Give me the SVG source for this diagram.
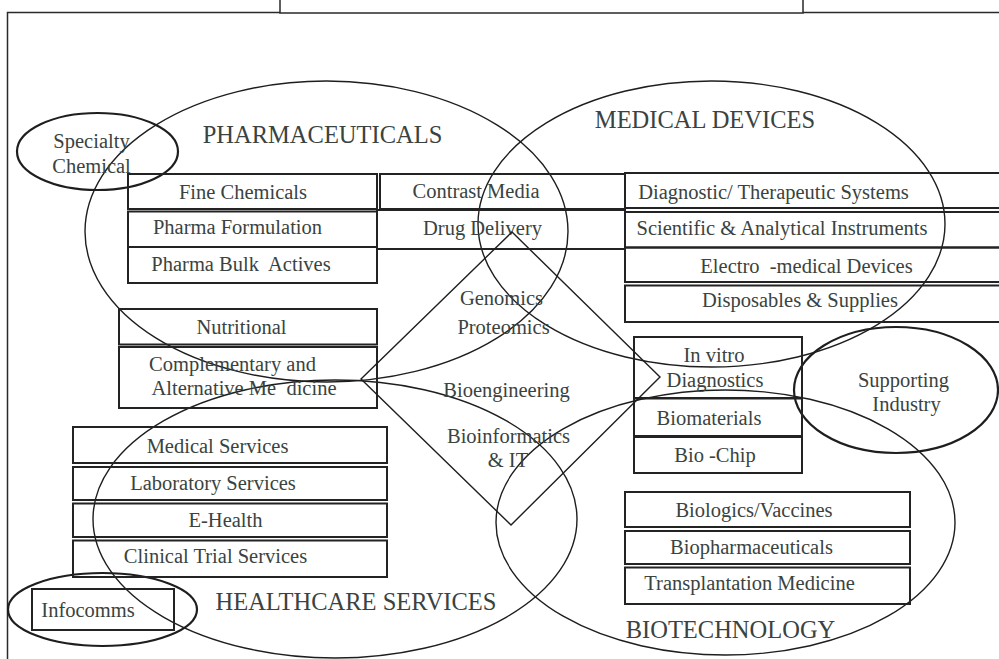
<svg xmlns="http://www.w3.org/2000/svg" width="999" height="659" viewBox="0 0 999 659">
  <style>
    .bg { fill: #ffffff; }
    .frame { fill: none; stroke: #2a2a2a; stroke-width: 1.5; }
    .sector { fill: none; stroke: #1e1e1e; stroke-width: 1.4; }
    .ring { fill: none; stroke: #1e1e1e; stroke-width: 2.2; }
    .box { fill: none; stroke: #232323; stroke-width: 2; }
    .diamond { fill: none; stroke: #1e1e1e; stroke-width: 1.4; }
    .lbl { font-size: 20.5px; text-anchor: middle; fill: #3a4340; white-space: pre; }
    .title { font-size: 24.5px; text-anchor: middle; fill: #3a4340; }
  </style>

  <rect class="bg" x="0" y="0" width="999" height="659"/>

  <!-- page frame and header box -->
  <g id="frame">
    <polyline class="frame" points="7.5,659 7.5,12.5 280,12.5"/>
    <polyline class="frame" points="280,0 280,13 803,13 803,0"/>
    <line class="frame" x1="803" y1="12.5" x2="999" y2="12.5"/>
  </g>

  <g font-family="'Liberation Serif', 'DejaVu Serif', 'Times New Roman', serif">
  <!-- sector ellipses -->
  <g id="pharmaceuticals">
    <ellipse class="sector" cx="326.5" cy="231.5" rx="241.5" ry="150.5"/>
    <text class="title" x="322.5" y="143">PHARMACEUTICALS</text>
  </g>
  <g id="medical-devices">
    <ellipse class="sector" cx="711.5" cy="224" rx="233.5" ry="143"/>
    <text class="title" x="705" y="128">MEDICAL DEVICES</text>
  </g>
  <g id="healthcare-services">
    <ellipse class="sector" cx="335" cy="519" rx="242" ry="139"/>
    <text class="title" x="356" y="610">HEALTHCARE SERVICES</text>
  </g>
  <g id="biotechnology">
    <ellipse class="sector" cx="725.5" cy="522.5" rx="229.5" ry="132.5"/>
    <text class="title" x="730.5" y="638">BIOTECHNOLOGY</text>
  </g>

  <!-- satellite industries -->
  <g id="specialty-chemical">
    <ellipse class="ring" cx="97.5" cy="151.5" rx="80.5" ry="38.5"/>
    <text class="lbl" x="91.5" y="148">Specialty</text>
    <text class="lbl" x="91.5" y="173">Chemical</text>
  </g>
  <g id="supporting-industry">
    <ellipse class="ring" cx="896" cy="390" rx="102" ry="63"/>
    <text class="lbl" x="903.5" y="387">Supporting</text>
    <text class="lbl" x="906.5" y="411">Industry</text>
  </g>
  <g id="infocomms">
    <ellipse class="ring" cx="102.5" cy="609.5" rx="94.5" ry="36.5"/>
    <rect class="box" x="32" y="589" width="142" height="41"/>
    <text class="lbl" x="88" y="617">Infocomms</text>
  </g>

  <!-- pharmaceutical segments -->
  <g id="fine-chemicals">
    <rect class="box" x="128" y="174" width="249" height="35"/>
    <text class="lbl" x="243" y="199">Fine Chemicals</text>
  </g>
  <g id="pharma-formulation">
    <rect class="box" x="128" y="211.5" width="249" height="35.5"/>
    <text class="lbl" x="237.5" y="234">Pharma Formulation</text>
  </g>
  <g id="pharma-bulk-actives">
    <rect class="box" x="128" y="247" width="249" height="36"/>
    <text class="lbl" x="241" y="271">Pharma Bulk  Actives</text>
  </g>
  <g id="contrast-media">
    <rect class="box" x="380" y="174" width="245" height="35"/>
    <text class="lbl" x="476" y="198">Contrast Media</text>
  </g>
  <g id="drug-delivery">
    <rect class="box" x="377" y="210" width="248" height="39"/>
    <text class="lbl" x="482.5" y="235">Drug Delivery</text>
  </g>

  <!-- medical device segments -->
  <g id="diagnostic-therapeutic">
    <rect class="box" x="625" y="173" width="380" height="35"/>
    <text class="lbl" x="773.5" y="199">Diagnostic/ Therapeutic Systems</text>
  </g>
  <g id="scientific-instruments">
    <rect class="box" x="625" y="212" width="380" height="35.5"/>
    <text class="lbl" x="782" y="235">Scientific &amp; Analytical Instruments</text>
  </g>
  <g id="electro-medical">
    <rect class="box" x="625" y="247.5" width="380" height="34.5"/>
    <text class="lbl" x="806.5" y="273">Electro  -medical Devices</text>
  </g>
  <g id="disposables">
    <rect class="box" x="625" y="285.5" width="380" height="36.5"/>
    <text class="lbl" x="800" y="307">Disposables &amp; Supplies</text>
  </g>

  <!-- nutrition and alternative medicine -->
  <g id="nutritional">
    <rect class="box" x="119" y="309" width="258" height="35.5"/>
    <text class="lbl" x="241.5" y="334">Nutritional</text>
  </g>
  <g id="complementary-medicine">
    <rect class="box" x="119" y="347" width="258" height="61"/>
    <text class="lbl" x="232.5" y="371">Complementary and</text>
    <text class="lbl" x="244" y="395">Alternative Me  dicine</text>
  </g>

  <!-- healthcare service segments -->
  <g id="medical-services">
    <rect class="box" x="73" y="427" width="314" height="36"/>
    <text class="lbl" x="217.5" y="453">Medical Services</text>
  </g>
  <g id="laboratory-services">
    <rect class="box" x="73" y="467" width="314" height="33"/>
    <text class="lbl" x="213" y="490">Laboratory Services</text>
  </g>
  <g id="e-health">
    <rect class="box" x="73" y="503.5" width="314" height="33.5"/>
    <text class="lbl" x="225.5" y="527">E-Health</text>
  </g>
  <g id="clinical-trials">
    <rect class="box" x="73" y="540.5" width="314" height="36.5"/>
    <text class="lbl" x="215.5" y="563">Clinical Trial Services</text>
  </g>

  <!-- biotechnology segments -->
  <g id="in-vitro-diagnostics">
    <rect class="box" x="634" y="337" width="168" height="61"/>
    <text class="lbl" x="714" y="362">In vitro</text>
    <text class="lbl" x="715" y="387">Diagnostics</text>
  </g>
  <g id="biomaterials">
    <rect class="box" x="634" y="398.5" width="168" height="37.5"/>
    <text class="lbl" x="709" y="425">Biomaterials</text>
  </g>
  <g id="bio-chip">
    <rect class="box" x="634" y="437" width="168" height="36"/>
    <text class="lbl" x="715" y="462">Bio -Chip</text>
  </g>
  <g id="biologics-vaccines">
    <rect class="box" x="625" y="492" width="285" height="35"/>
    <text class="lbl" x="754" y="517">Biologics/Vaccines</text>
  </g>
  <g id="biopharmaceuticals">
    <rect class="box" x="625" y="531" width="285" height="33"/>
    <text class="lbl" x="751.5" y="554">Biopharmaceuticals</text>
  </g>
  <g id="transplantation-medicine">
    <rect class="box" x="625" y="567.5" width="285" height="36.5"/>
    <text class="lbl" x="749.5" y="590">Transplantation Medicine</text>
  </g>

  <!-- central enabling technologies -->
  <g id="enabling-technologies">
    <polygon class="diamond" points="512,232 660,377 511,525 361,379"/>
    <text class="lbl" x="501.5" y="305">Genomics</text>
    <text class="lbl" x="503.5" y="334">Proteomics</text>
    <text class="lbl" x="506.5" y="397">Bioengineering</text>
    <text class="lbl" x="508.5" y="443">Bioinformatics</text>
    <text class="lbl" x="508" y="467">&amp; IT</text>
  </g>
  </g>
</svg>
